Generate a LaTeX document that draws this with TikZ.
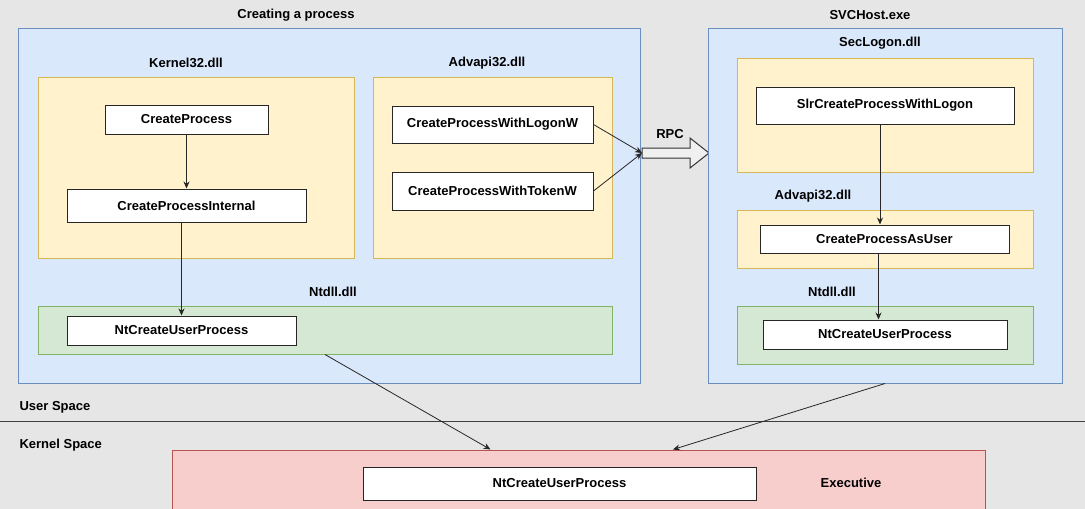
\documentclass[tikz,border=0pt]{standalone}
\usepackage{fontspec}
\setmainfont{Liberation Sans}
\usetikzlibrary{arrows.meta}
\definecolor{bggray}{HTML}{E6E6E6}
\definecolor{procfill}{HTML}{DAE8FC}
\definecolor{procline}{HTML}{6C8EBF}
\definecolor{dllfill}{HTML}{FFF2CC}
\definecolor{dllline}{HTML}{D6B656}
\definecolor{ntfill}{HTML}{D5E8D4}
\definecolor{ntline}{HTML}{82B366}
\definecolor{krnfill}{HTML}{F8CECC}
\definecolor{krnline}{HTML}{B85450}
\begin{document}
\begin{tikzpicture}[
    x=1pt, y=-1pt,
    txt/.style={font=\bfseries\fontsize{13}{15}\selectfont},
    box/.style={rectangle, inner sep=0pt, line width=1pt},
    proc/.style={box, draw=procline, fill=procfill},
    dll/.style={box, draw=dllline, fill=dllfill},
    ntd/.style={box, draw=ntline, fill=ntfill},
    krn/.style={box, draw=krnline, fill=krnfill},
    fn/.style={box, txt, draw=black!85, fill=white},
    lbl/.style={txt, align=center},
    arr/.style={-{Stealth[length=7pt,width=6pt]}, line width=0.8pt, black!85}
]
    \clip (0,0) rectangle (1085,509);
    \fill[bggray] (0,0) rectangle (1085,509);

    \node[proc, minimum width=622pt, minimum height=355pt] (creat) at (329,205.5) {};
    \node[lbl] at (296,15) {Creating a process};
    \node[dll, minimum width=316pt, minimum height=181pt] (k32) at (196,167.5) {};
    \node[lbl] at (186,63) {Kernel32.dll};
    \node[dll, minimum width=239pt, minimum height=181pt] (adv) at (492.5,167.5) {};
    \node[lbl] at (487,63) {Advapi32.dll};
    \node[ntd, minimum width=574pt, minimum height=48pt] (ntl) at (325,330) {};
    \node[lbl] at (333,292) {Ntdll.dll};

    \node[fn, minimum width=163pt, minimum height=29pt] (cp) at (186.5,119.5) {CreateProcess};
    \node[fn, minimum width=239pt, minimum height=33pt] (cpi) at (186.5,205.5) {CreateProcessInternal};
    \node[fn, minimum width=229pt, minimum height=29pt] (ntu1) at (181.5,330.5) {NtCreateUserProcess};
    \node[fn, minimum width=201pt, minimum height=37pt] (cplw) at (492.5,124.5) {CreateProcessWithLogonW};
    \node[fn, minimum width=201pt, minimum height=38pt] (cptw) at (492.5,191) {CreateProcessWithTokenW};
    \draw[arr] (cp) -- (cpi);
    \draw[arr] (ntu1.north |- cpi.south) -- (ntu1.north);

    \draw[line width=1pt, draw=black!80, fill=white!94!black]
        (642,148) -- (690,148) -- (690,138) -- (709,153) -- (690,168) -- (690,158) -- (642,158) -- cycle;
    \coordinate (rpcin) at (642,153);
    \node[lbl] at (670,134) {RPC};
    \draw[arr] (cplw.east) -- (rpcin);
    \draw[arr] (cptw.east) -- (rpcin);

    \node[proc, minimum width=354pt, minimum height=355pt] (svc) at (885,205.5) {};
    \node[lbl] at (870,15) {SVCHost.exe};
    \node[dll, minimum width=296pt, minimum height=114pt] (sec) at (885,115) {};
    \node[lbl] at (880,43) {SecLogon.dll};
    \node[dll, minimum width=296pt, minimum height=58pt] (adv2) at (885,239) {};
    \node[lbl] at (813,196) {Advapi32.dll};
    \node[ntd, minimum width=296pt, minimum height=58pt] (ntl2) at (885,335) {};
    \node[lbl] at (832,292) {Ntdll.dll};

    \node[fn, minimum width=258pt, minimum height=37pt] (slr) at (885,105.5) {SlrCreateProcessWithLogon};
    \node[fn, minimum width=249pt, minimum height=28pt] (cpau) at (884.5,239) {CreateProcessAsUser};
    \node[fn, minimum width=244pt, minimum height=29pt] (ntu2) at (885,334.5) {NtCreateUserProcess};
    \draw[arr] ([xshift=-5pt]slr.south) -- ([xshift=-5pt]slr.south |- cpau.north);
    \draw[arr] ([xshift=-6pt]cpau.south) -- ([xshift=-6pt]cpau.south |- ntu2.north);

    \coordinate (sepl) at (0,421);
    \coordinate (sepr) at (1085,421);
    \draw[line width=1pt, black!75] (sepl) -- (sepr);
    \node[lbl, anchor=west] at (16,407) {User Space};
    \node[lbl, anchor=west] at (16,445) {Kernel Space};

    \node[krn, minimum width=813pt, minimum height=70pt] (exec) at (578.5,485) {};
    \node[fn, minimum width=393pt, minimum height=33pt] (ntuk) at (559.5,483.5) {NtCreateUserProcess};
    \node[lbl] at (851,483) {Executive};
    \draw[arr] (ntl.south) -- ([xshift=-88pt]exec.north);
    \draw[arr] (svc.south) -- ([xshift=94.5pt]exec.north);
\end{tikzpicture}
\end{document}
